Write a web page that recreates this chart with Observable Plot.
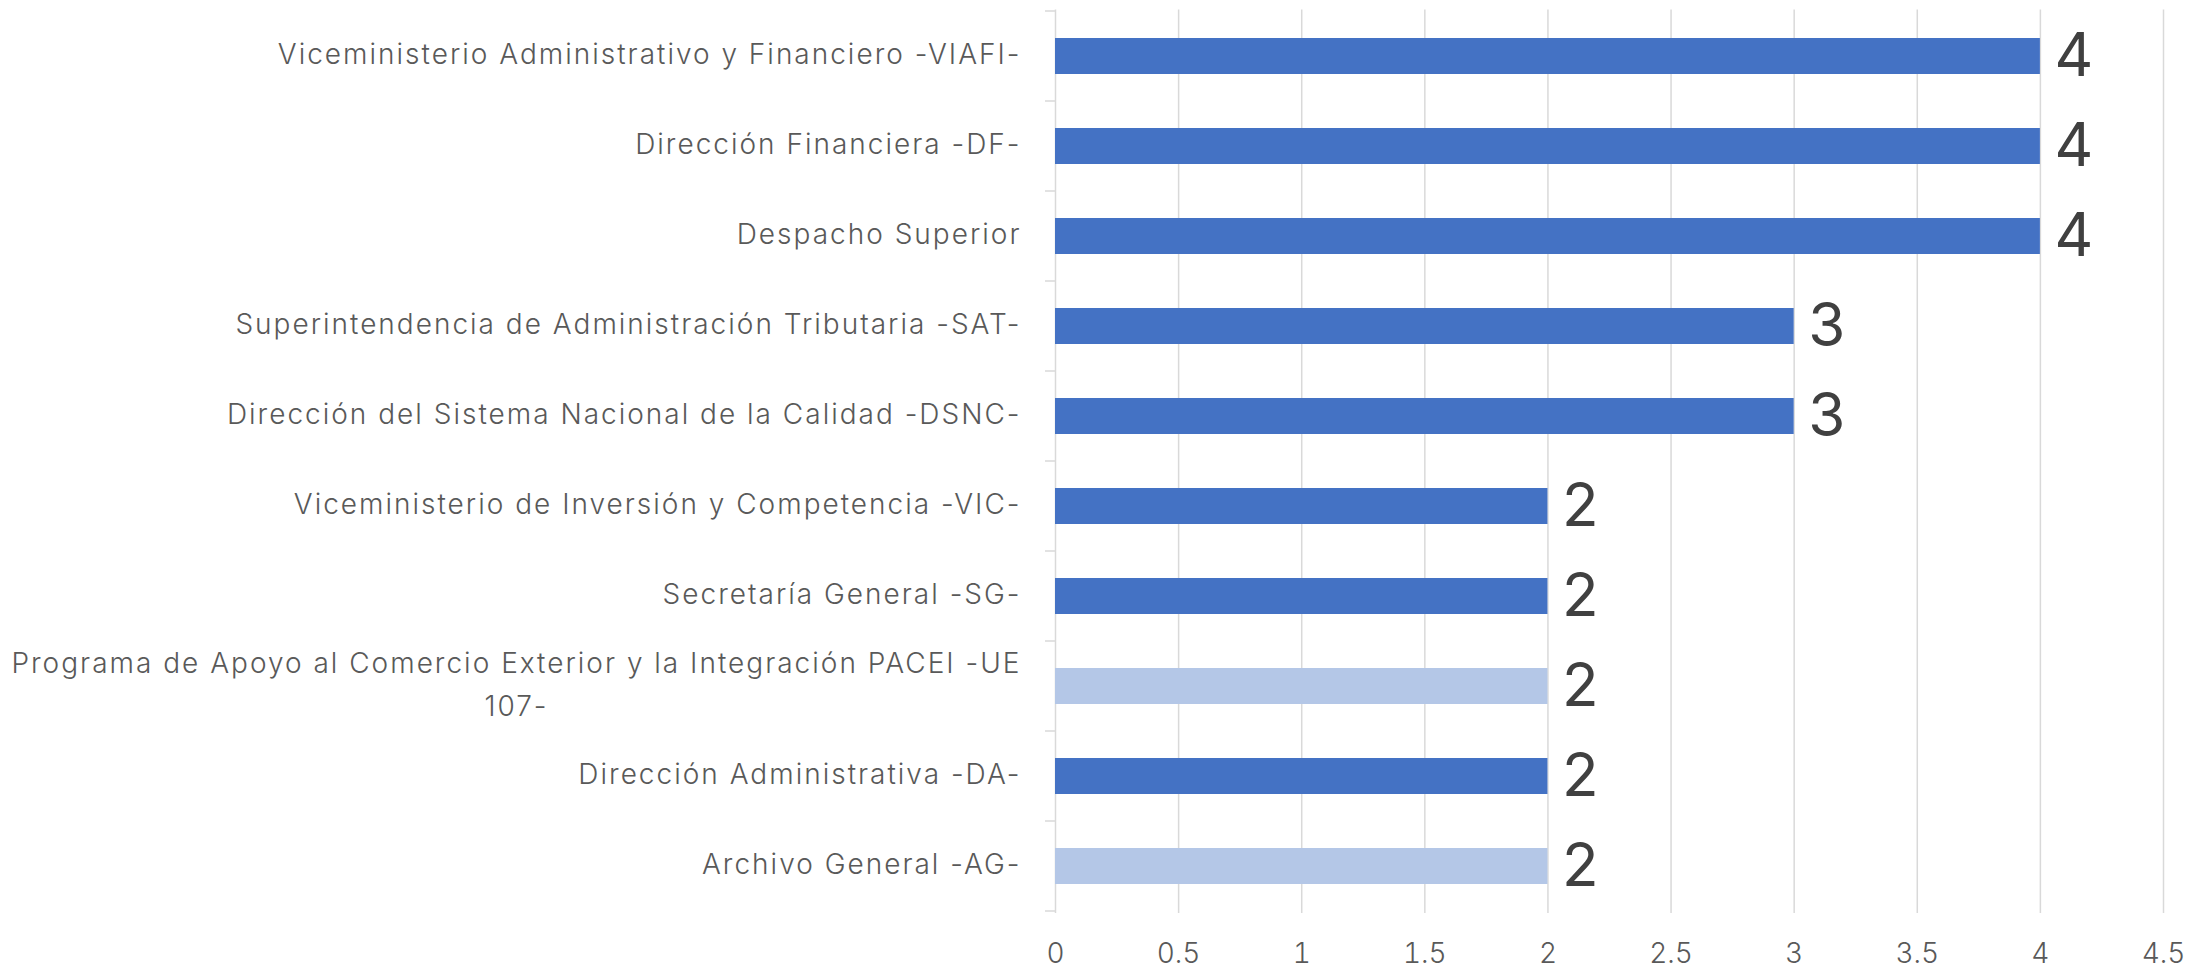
<!DOCTYPE html>
<html>
<head>
<meta charset="utf-8">
<script src="https://cdn.jsdelivr.net/npm/d3@7"></script>
<script src="https://cdn.jsdelivr.net/npm/@observablehq/plot@0.6"></script>
<style>
  html, body { margin: 0; padding: 0; background: #ffffff; }
  #chart { width: 2202px; height: 970px; overflow: hidden; }
  .cat-label text { letter-spacing: 2px; }
</style>
</head>
<body>
<div id="chart"></div>
<script>
// Categories, top to bottom as shown
const categories = [
  "Viceministerio Administrativo y Financiero -VIAFI-",
  "Dirección Financiera -DF-",
  "Despacho Superior",
  "Superintendencia de Administración Tributaria -SAT-",
  "Dirección del Sistema Nacional de la Calidad -DSNC-",
  "Viceministerio de Inversión y Competencia -VIC-",
  "Secretaría General -SG-",
  "Programa de Apoyo al Comercio Exterior y la Integración PACEI -UE\n107-",
  "Dirección Administrativa -DA-",
  "Archivo General -AG-"
];
const values = [4, 4, 4, 3, 3, 2, 2, 2, 2, 2];
const tones = ["main", "main", "main", "main", "main", "main", "main", "alt", "main", "alt"];
const xTicks = [0, 0.5, 1, 1.5, 2, 2.5, 3, 3.5, 4, 4.5];

const data = categories.map((c, i) => ({category: c, value: values[i], tone: tones[i]}));

const FONT = "Inter, 'Open Sans', sans-serif";
const labelColor = "#595959";
const gridColor = "#d9d9d9";

const plot = Plot.plot({
  width: 2202,
  height: 970,
  marginTop: 9.5,
  marginBottom: 57,
  marginLeft: 1055,
  marginRight: 39,
  style: {fontFamily: FONT, background: "#ffffff", overflow: "visible"},
  x: {domain: [0, 4.5], axis: null},
  y: {domain: categories, paddingInner: 0.6, paddingOuter: 0.3, axis: null},
  color: {domain: ["main", "alt"], range: ["#4472C4", "#B4C7E7"]},
  marks: [
    Plot.ruleX(xTicks, {stroke: gridColor, strokeWidth: 1.5}),
    Plot.barX(data, {x: "value", y: "category", fill: "tone"}),
    Plot.text(data, {
      x: "value", y: "category", text: d => String(d.value),
      textAnchor: "start", dx: 14, fontSize: 60, fill: "#404040", fontFamily: FONT
    }),
    Plot.text(data, {
      x: 0, y: "category", text: "category",
      textAnchor: "end", dx: -34, dy: -6, fontSize: 28, fill: labelColor,
      lineHeight: 1.55, fontFamily: FONT, fontWeight: 300, className: "cat-label"
    }),
    Plot.axisX({
      ticks: xTicks, tickSize: 0, tickPadding: 30, fontSize: 28,
      color: labelColor, tickFormat: d => String(d), label: null, fontWeight: 300
    })
  ]
});

document.getElementById("chart").appendChild(plot);

// category separator ticks on the y axis, from the band scale
const ys = plot.scale("y");
const xs = plot.scale("x");
const x0 = xs.apply(0);
const bounds = categories.map(c => ys.apply(c) - ys.step * 0.3)
  .concat([ys.apply(categories[categories.length - 1]) + ys.bandwidth + ys.step * 0.3]);
d3.select(plot).append("g")
  .selectAll("line").data(bounds).join("line")
  .attr("x1", x0 - 10).attr("x2", x0)
  .attr("y1", d => d).attr("y2", d => d)
  .attr("stroke", gridColor).attr("stroke-width", 1.5);

// center continuation lines of wrapped labels under the first line (as in the original)
d3.select(plot).selectAll("text").each(function() {
  const spans = this.querySelectorAll("tspan");
  if (spans.length > 1) {
    const w1 = spans[0].getComputedTextLength();
    this.setAttribute("text-anchor", "middle");
    this.style.textAnchor = "middle";
    spans.forEach(s => {
      const bx = +(s.getAttribute("x") || 0);
      s.setAttribute("x", bx - w1 / 2);
    });
  }
});
</script>
</body>
</html>
